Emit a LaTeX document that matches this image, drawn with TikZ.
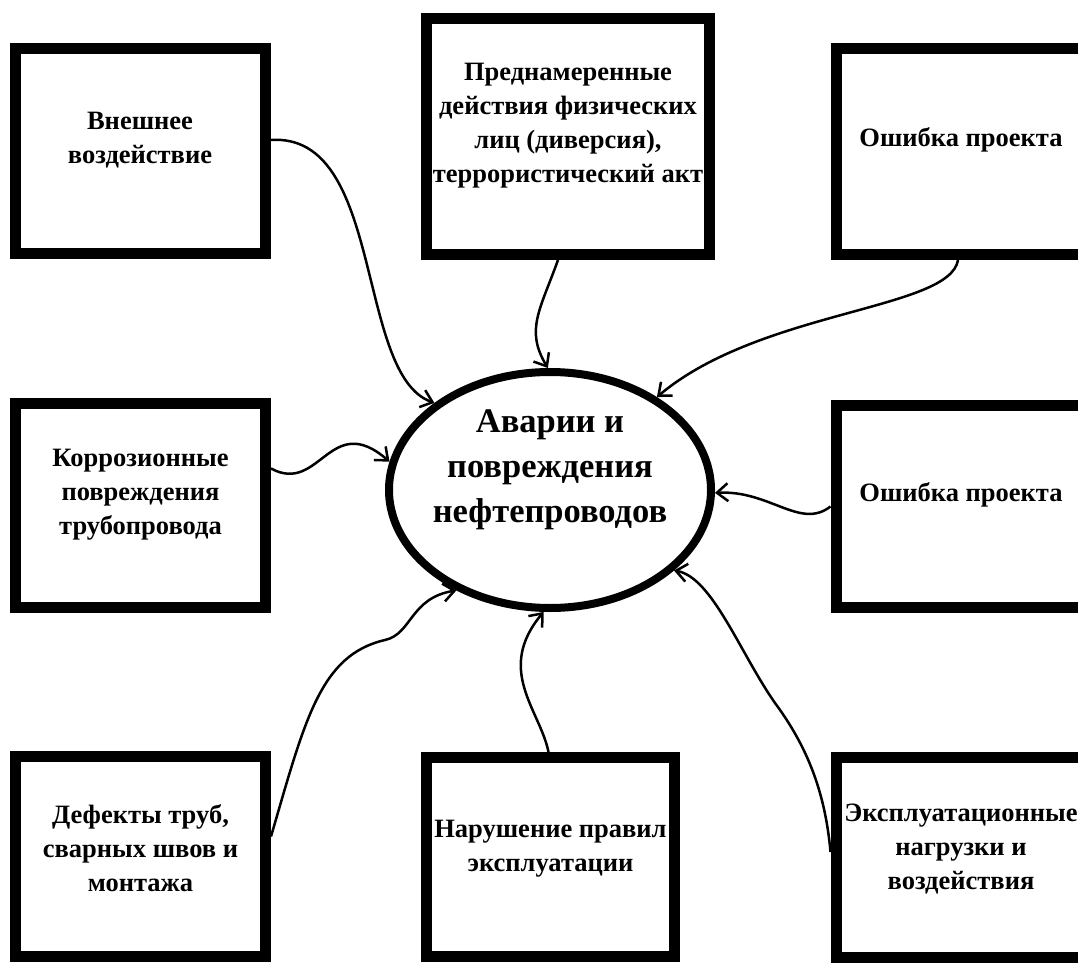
\documentclass[tikz,border=0pt]{standalone}
\usepackage{fontspec}
\setmainfont{Liberation Serif}
\usetikzlibrary{shapes.geometric, arrows.meta}
\tikzset{
    cause/.style={draw=black, line width=11pt, minimum width=250pt, minimum height=204pt, inner sep=0pt},
    causetext/.style={align=center, inner sep=0pt, font=\bfseries\fontsize{26.5}{34}\selectfont},
    accident/.style={ellipse, draw=black, line width=8pt, minimum width=322pt, minimum height=236pt, inner sep=0pt},
    accidenttext/.style={align=center, inner sep=0pt, font=\bfseries\fontsize{34.5}{45}\selectfont},
    link/.style={line width=2.5pt, -{Straight Barb[length=11pt,width=18pt]}},
}
\begin{document}
\begin{tikzpicture}[x=1pt, y=-1pt]
            \useasboundingbox (0,0) rectangle (1078,965);
            \node[accident] (acc) at (550,490) {};
            \node[accidenttext] (acc-t) at ([yshift=20pt]acc.center) {Аварии и\\повреждения\\нефтепроводов};
            \node[cause, minimum height=205pt] (ext) at (140,151) {};
            \node[cause, minimum width=283pt, minimum height=236pt] (intent) at (568,136.5) {};
            \node[cause, minimum height=206pt] (err1) at (961,151.5) {};
            \node[cause] (corr) at (140.5,505.5) {};
            \node[cause, minimum height=202pt] (err2) at (961,506.5) {};
            \node[cause, minimum height=200pt] (def) at (140.5,856.5) {};
            \node[cause, minimum width=248pt, minimum height=199pt] (rules) at (550.5,857) {};
            \node[cause, minimum height=200pt] (expl) at (961,857) {};
            \node[causetext] (ext-t) at ([yshift=11pt]ext.center) {Внешнее\\воздействие};
            \node[causetext] (intent-t) at ([yshift=11pt]intent.center) {Преднамеренные\\действия физических\\лиц (диверсия),\\террористический акт};
            \node[causetext] (err1-t) at ([yshift=12pt]err1.center) {Ошибка проекта};
            \node[causetext] (corr-t) at ([yshift=11pt]corr.center) {Коррозионные\\повреждения\\трубопровода};
            \node[causetext] (err2-t) at ([yshift=12pt]err2.center) {Ошибка проекта};
            \node[causetext] (def-t) at ([yshift=8pt]def.center) {Дефекты труб,\\сварных швов и\\монтажа};
            \node[causetext] (rules-t) at ([yshift=8pt]rules.center) {Нарушение правил\\эксплуатации};
            \node[causetext] (expl-t) at ([yshift=8pt]expl.center) {Эксплуатационные\\нагрузки и\\воздействия};
            \draw[link]([yshift=11pt]ext.east) .. controls (385,132) and (355,375) .. (acc.143);
            \draw[link]([xshift=-10pt]intent.south) .. controls (540,310) and (525,330) .. (acc.91);
            \draw[link]([xshift=-3pt]err1.south) .. controls (950,310) and (760,310) .. (acc.41);
            \draw[link]([yshift=37pt]corr.east) .. controls (320,495) and (330,410) .. (acc.170);
            \draw[link](err2.west) .. controls (800,530) and (770,490) .. (acc.-1);
            \draw[link]([yshift=20pt]def.east) .. controls (305,720) and (320,655) .. (385,640) .. controls (412,634) and (410,598) .. (acc.227);
            \draw[link]([xshift=-2pt]rules.north) .. controls (540,710) and (495,670) .. (acc.267);
            \draw[link]([yshift=5pt]expl.west) .. controls (825,790) and (806,745) .. (775,703) .. controls (740,653) and (712,577) .. (acc.327);
        \end{tikzpicture}
\end{document}
